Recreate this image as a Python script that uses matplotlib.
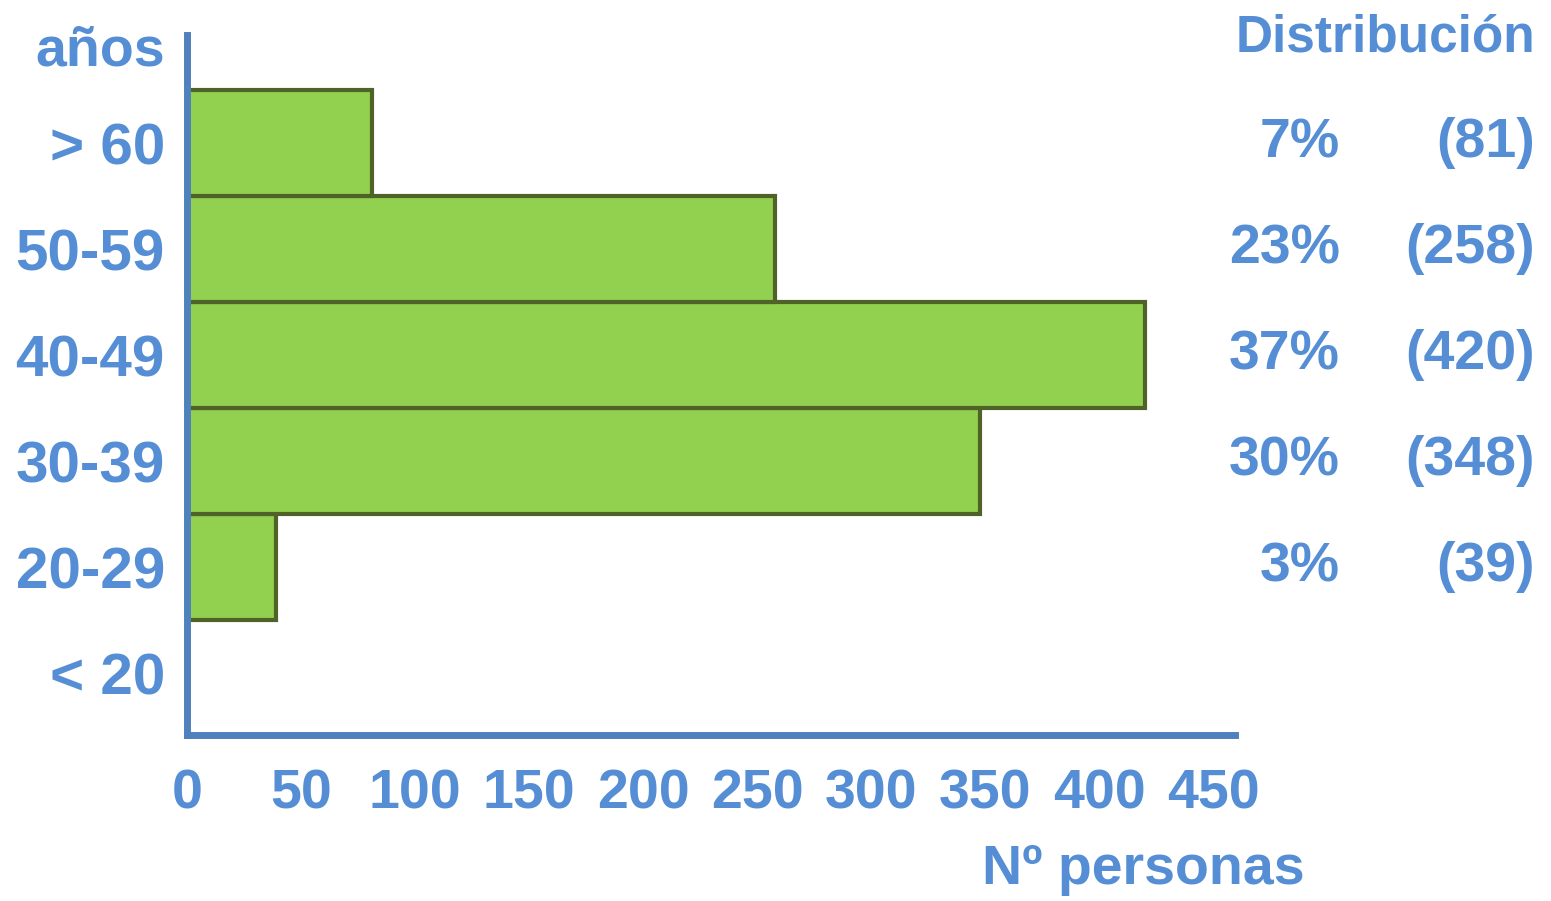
import matplotlib.pyplot as plt
import matplotlib.transforms as mtransforms

# data
age_groups = ['< 20', '20-29', '30-39', '40-49', '50-59', '> 60']
people = [0, 39, 348, 420, 258, 81]
x_ticks = [0, 50, 100, 150, 200, 250, 300, 350, 400, 450]

text_blue = '#558ED5'
axis_blue = '#4F81BD'
bar_green = '#92D050'
edge_green = '#4F6228'

plt.rcParams['font.family'] = ['Liberation Sans', 'DejaVu Sans']
plt.rcParams['font.weight'] = 'bold'

W, H = 1551, 901
fig = plt.figure(figsize=(W / 100, H / 100), dpi=100)
ax = fig.add_axes([187 / W, 166 / H, (1235 - 187) / W, 700 / H])

ypos = list(range(len(age_groups)))
ax.barh(ypos, people, height=1.0, color=bar_green, edgecolor=edge_green,
        linewidth=3, zorder=2)

ax.set_xlim(0, 1048 / 2.28)
ax.set_ylim(-0.585, 6.02)

for s in ['top', 'right']:
    ax.spines[s].set_visible(False)
for s in ['left', 'bottom']:
    ax.spines[s].set_color(axis_blue)
    ax.spines[s].set_linewidth(5)
    ax.spines[s].set_zorder(3)

ax.set_yticks(ypos)
ax.set_yticklabels(age_groups)
ax.set_xticks(x_ticks)
ax.set_xticklabels([str(v) for v in x_ticks])
ax.tick_params(axis='y', length=0, pad=16, labelsize=42, labelcolor=text_blue)
ax.tick_params(axis='x', length=0, pad=24, labelsize=40, labelcolor=text_blue)
for lab in ax.get_xticklabels() + ax.get_yticklabels():
    lab.set_fontweight('bold')

# distribution columns on the right
total = sum(people)
trans = mtransforms.blended_transform_factory(fig.transFigure, ax.transData)
for y, n in zip(ypos, people):
    if n == 0:
        continue
    pct = round(100 * n / total)
    ax.text(1340 / W, y, f'{pct}%', transform=trans, ha='right', va='center',
            fontsize=40, fontweight='bold', color=text_blue)
    ax.text(1535 / W, y, f'({n})', transform=trans, ha='right', va='center',
            fontsize=40, fontweight='bold', color=text_blue)

fig.text(1535 / W, 1 - 38 / H, 'Distribución', ha='right', va='center',
         fontsize=37, fontweight='bold', color=text_blue)
fig.text(165 / W, 1 - 52 / H, 'años', ha='right', va='center',
         fontsize=40, fontweight='bold', color=text_blue)
fig.text(1305 / W, 1 - 870 / H, 'Nº personas', ha='right', va='center',
         fontsize=40, fontweight='bold', color=text_blue)

fig.savefig('out.png', dpi=100, facecolor='white')
